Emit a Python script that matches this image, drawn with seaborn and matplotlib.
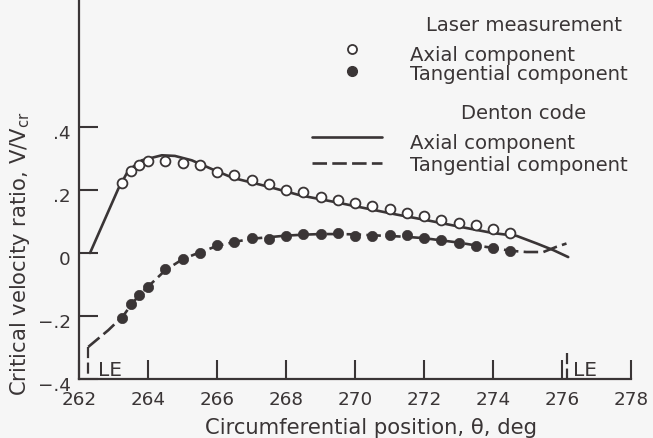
import matplotlib
matplotlib.use("Agg")
import matplotlib.pyplot as plt
import matplotlib.transforms as mtransforms
import seaborn as sns
from matplotlib.lines import Line2D

# ---- data ----
theta_meas = [263.25, 263.5, 263.75, 264.0, 264.5, 265.0, 265.5, 266.0, 266.5,
              267.0, 267.5, 268.0, 268.5, 269.0, 269.5, 270.0, 270.5, 271.0,
              271.5, 272.0, 272.5, 273.0, 273.5, 274.0, 274.5]
axial_meas = [0.221, 0.260, 0.279, 0.292, 0.292, 0.286, 0.278, 0.258, 0.246,
              0.231, 0.218, 0.200, 0.193, 0.177, 0.169, 0.159, 0.149, 0.139,
              0.127, 0.117, 0.106, 0.096, 0.088, 0.075, 0.063]
tang_meas = [-0.206, -0.163, -0.134, -0.109, -0.052, -0.020, 0.001, 0.026, 0.034,
             0.046, 0.044, 0.055, 0.059, 0.059, 0.063, 0.055, 0.055, 0.056,
             0.056, 0.049, 0.040, 0.033, 0.022, 0.016, 0.006]

theta_axial_code = [262.32, 263.14, 263.43, 263.82, 264.40, 264.78, 265.27, 265.94,
                    266.47, 267.5, 268.41, 269.4, 270.34, 271.2, 272.08, 273.0,
                    274.01, 274.69, 275.27, 275.75, 276.18]
axial_code = [0.0, 0.204, 0.262, 0.294, 0.310, 0.308, 0.294, 0.262,
              0.238, 0.210, 0.183, 0.162, 0.141, 0.122, 0.104, 0.084,
              0.063, 0.054, 0.030, 0.009, -0.013]

theta_tang_code = [262.27, 262.85, 263.04, 263.28, 263.54, 263.78, 264.02, 264.5,
                   265.0, 265.5, 266.0, 266.5, 267.0, 267.5, 268.0, 268.5, 269.0,
                   269.5, 270.0, 270.5, 271.0, 271.5, 272.0, 272.5, 273.0, 273.5,
                   274.0, 274.5, 274.97, 275.46, 275.85, 276.13]
tang_code = [-0.298, -0.245, -0.225, -0.200, -0.160, -0.130, -0.105, -0.055,
             -0.020, 0.002, 0.022, 0.035, 0.045, 0.050, 0.055, 0.058, 0.060,
             0.060, 0.059, 0.056, 0.054, 0.051, 0.047, 0.040, 0.033, 0.024,
             0.016, 0.007, 0.003, 0.003, 0.020, 0.030]

le_theta = [262.27, 276.15]
le_top = [-0.298, -0.317]

xticks = [262, 264, 266, 268, 270, 272, 274, 276, 278]
yticks = [-0.4, -0.2, 0.0, 0.2, 0.4]
ytick_labels = ["\u2212.4", "\u2212.2", "0", ".2", ".4"]

# ---- style ----
sns.set_theme(style="ticks")
plt.rcParams["font.family"] = ["DejaVu Sans"]
plt.rcParams["mathtext.fontset"] = "dejavusans"

ink = "#3a3536"
bg = "#f6f6f6"
W, H = 653, 439

fig = plt.figure(figsize=(W / 100, H / 100), dpi=100, facecolor=bg)
ax = fig.add_axes([79 / W, 59 / H, 552 / W, 380 / H], facecolor=bg)

dash = (0, (5.5, 2.0))

sns.lineplot(x=theta_axial_code, y=axial_code, sort=False, estimator=None,
             color=ink, linewidth=1.9, ax=ax, zorder=2)
sns.lineplot(x=theta_tang_code, y=tang_code, sort=False, estimator=None,
             color=ink, linewidth=1.9, linestyle=dash, ax=ax, zorder=2)
for xl, yt in zip(le_theta, le_top):
    sns.lineplot(x=[xl, xl], y=[yt, -0.4], sort=False, estimator=None,
                 color=ink, linewidth=1.6, linestyle=(0, (5, 2)), ax=ax, zorder=2)

sns.scatterplot(x=theta_meas, y=axial_meas, marker="o", s=50, facecolor="white",
                edgecolor=ink, linewidth=1.3, ax=ax, zorder=3)
sns.scatterplot(x=theta_meas, y=tang_meas, marker="o", s=55, color=ink,
                edgecolor=ink, linewidth=0.5, ax=ax, zorder=3)

ax.set_xlim(262, 278)
ax.set_ylim(-0.4, 0.806)
ax.set_xticks(xticks)
ax.set_xticklabels([str(t) for t in xticks])
ax.set_yticks(yticks)
ax.set_yticklabels(ytick_labels)
sns.despine(ax=ax)
for s in ("left", "bottom"):
    ax.spines[s].set_color(ink)
    ax.spines[s].set_linewidth(1.6)
ax.tick_params(axis="both", direction="in", length=13.5, width=1.5, colors=ink,
               labelsize=13.2, labelcolor=ink)
ax.tick_params(axis="x", pad=8)
ax.tick_params(axis="y", pad=6)
ydown = mtransforms.ScaledTranslation(0, -4 / 100, fig.dpi_scale_trans)
for lab in ax.get_yticklabels():
    lab.set_transform(lab.get_transform() + ydown)

ax.set_xlabel("Circumferential position, \u03b8, deg", fontsize=15.2, color=ink)
ax.set_ylabel("Critical velocity ratio, V/V$_{\\rm cr}$", fontsize=15.2, color=ink)
ax.xaxis.set_label_coords(0.529, -0.10)
ax.yaxis.set_label_coords(-0.085, 0.332)

ax.text(262.55, -0.387, "LE", fontsize=14.5, color=ink, ha="left", va="baseline")
ax.text(276.32, -0.387, "LE", fontsize=14.5, color=ink, ha="left", va="baseline")

# ---- key (drawn in figure pixel coordinates) ----
def fx(px):
    return px / W

def fy(py):
    return 1 - py / H

fs = 14.1
fig.text(fx(524), fy(31), "Laser measurement", ha="center", va="baseline", fontsize=fs, color=ink)
fig.text(fx(410), fy(61), "Axial component", ha="left", va="baseline", fontsize=fs, color=ink)
fig.text(fx(410), fy(80), "Tangential component", ha="left", va="baseline", fontsize=fs, color=ink)
fig.text(fx(524), fy(119), "Denton code", ha="center", va="baseline", fontsize=fs, color=ink)
fig.text(fx(410), fy(149), "Axial component", ha="left", va="baseline", fontsize=fs, color=ink)
fig.text(fx(410), fy(171), "Tangential component", ha="left", va="baseline", fontsize=fs, color=ink)

fig.add_artist(Line2D([fx(351.7)], [fy(50)], marker="o", markersize=6.5,
                      markerfacecolor="white", markeredgecolor=ink, markeredgewidth=1.3,
                      linestyle="none", transform=fig.transFigure))
fig.add_artist(Line2D([fx(351.7)], [fy(72)], marker="o", markersize=7,
                      markerfacecolor=ink, markeredgecolor=ink,
                      linestyle="none", transform=fig.transFigure))
fig.add_artist(Line2D([fx(311.7), fx(381.7)], [fy(138.3), fy(138.3)], color=ink,
                      linewidth=1.9, transform=fig.transFigure))
fig.add_artist(Line2D([fx(311.7), fx(381.7)], [fy(164.3), fy(164.3)], color=ink,
                      linewidth=1.9, linestyle=dash, transform=fig.transFigure))

fig.savefig("out.png", dpi=100, facecolor=bg)
